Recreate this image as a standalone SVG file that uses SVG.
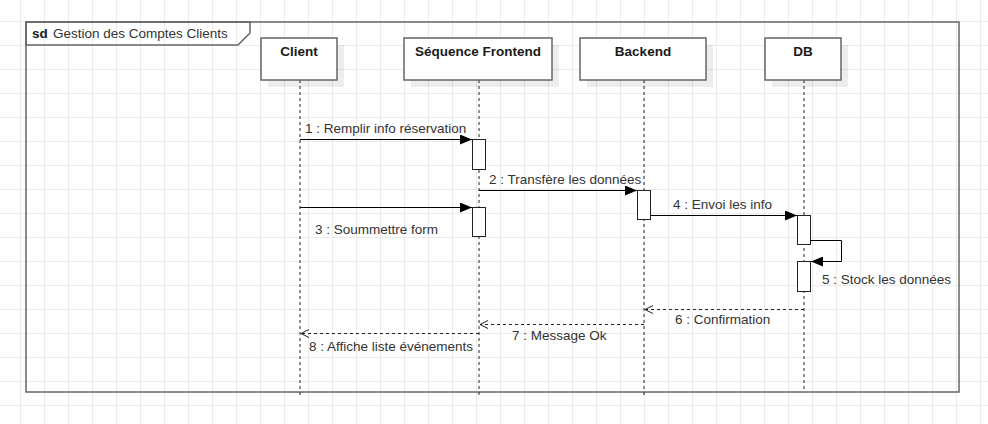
<svg xmlns="http://www.w3.org/2000/svg" width="988" height="424" viewBox="0 0 988 424">
<style>
.lbl{font-family:"Liberation Sans",Arial,sans-serif;font-size:13.5px;fill:#333}
.bold{font-family:"Liberation Sans",Arial,sans-serif;font-size:13.5px;font-weight:bold;fill:#1a1a1a}
.box{fill:#fff;stroke:#666;stroke-width:1.5}
.shadow{fill:#000;fill-opacity:0.07}
.life{stroke:#222;stroke-width:1;stroke-dasharray:3 3;fill:none}
.act{fill:#fff;stroke:#222;stroke-width:1}
.msg{stroke:#000;stroke-width:1;fill:none}
.ret{stroke:#222;stroke-width:1;stroke-dasharray:3 3;fill:none}
.frame{fill:none;stroke:#666;stroke-width:1.5}
</style>
<defs>
<pattern id="grid" patternUnits="userSpaceOnUse" x="20" y="21" width="24" height="24">
<path d="M0.5 0 V24 M0 0.5 H24" stroke="#ebebeb" stroke-width="1" fill="none"/>
</pattern>
<marker id="filled" viewBox="0 0 12 10" refX="12" refY="5" markerWidth="12" markerHeight="10" markerUnits="userSpaceOnUse" orient="auto">
<path d="M0 0 L12 5 L0 10 Z" fill="#000"/>
</marker>
<marker id="open" viewBox="0 0 10 10" refX="9" refY="5" markerWidth="10" markerHeight="10" markerUnits="userSpaceOnUse" orient="auto">
<path d="M1 1 L9 5 L1 9" fill="none" stroke="#222" stroke-width="1"/>
</marker>
</defs>
<rect width="988" height="424" fill="#fff"/>
<rect width="988" height="424" fill="url(#grid)"/>

<g id="frame">
<rect class="frame" x="26" y="22" width="933" height="370"/>
<path class="frame" d="M26 22 H250 V33 L238 45 H26 Z" fill="#fff"/>
<text class="bold" x="32" y="37.5">sd</text>
<text class="lbl" x="53" y="37.5">Gestion des Comptes Clients</text>
</g>

<g id="lifelines">
<line class="life" x1="300" y1="80" x2="300" y2="398"/>
<line class="life" x1="479" y1="80" x2="479" y2="398"/>
<line class="life" x1="644" y1="80" x2="644" y2="398"/>
<line class="life" x1="804" y1="80" x2="804" y2="392"/>
</g>

<g id="client">
<rect class="shadow" x="268" y="45" width="76" height="42"/>
<rect class="box" x="261" y="38" width="76" height="42"/>
<text class="bold" x="299" y="56" text-anchor="middle">Client</text>
</g>
<g id="frontend">
<rect class="shadow" x="411" y="45" width="148" height="42"/>
<rect class="box" x="404" y="38" width="148" height="42"/>
<text class="bold" x="478" y="56" text-anchor="middle">Séquence Frontend</text>
</g>
<g id="backend">
<rect class="shadow" x="587" y="45" width="126" height="42"/>
<rect class="box" x="580" y="38" width="126" height="42"/>
<text class="bold" x="643" y="56" text-anchor="middle">Backend</text>
</g>
<g id="db">
<rect class="shadow" x="772" y="45" width="76" height="42"/>
<rect class="box" x="765" y="38" width="76" height="42"/>
<text class="bold" x="803" y="56" text-anchor="middle">DB</text>
</g>

<g id="activations">
<rect class="act" x="472.5" y="139.5" width="13" height="30"/>
<rect class="act" x="472.5" y="207.5" width="13" height="29"/>
<rect class="act" x="637.5" y="190.5" width="13" height="29"/>
<rect class="act" x="797.5" y="215.5" width="13" height="29"/>
<rect class="act" x="797.5" y="261.5" width="13" height="30"/>
</g>

<g id="connectors">
<line class="msg" x1="300" y1="139.5" x2="472" y2="139.5" marker-end="url(#filled)"/>
<text class="lbl" x="305" y="133">1 : Remplir info réservation</text>
<line class="msg" x1="479" y1="190.5" x2="637" y2="190.5" marker-end="url(#filled)"/>
<text class="lbl" x="489" y="184">2 : Transfère les données</text>
<line class="msg" x1="300" y1="207.5" x2="472" y2="207.5" marker-end="url(#filled)"/>
<text class="lbl" x="315" y="234">3 : Soummettre form</text>
<line class="msg" x1="650" y1="215.5" x2="797" y2="215.5" marker-end="url(#filled)"/>
<text class="lbl" x="673" y="209">4 : Envoi les info</text>
<path class="msg" d="M810 240.5 H841.5 V261.5 H811" marker-end="url(#filled)"/>
<text class="lbl" x="822" y="284">5 : Stock les données</text>
<line class="ret" x1="804" y1="309.5" x2="645" y2="309.5" marker-end="url(#open)"/>
<text class="lbl" x="675" y="323.5">6 : Confirmation</text>
<line class="ret" x1="644" y1="324.5" x2="480" y2="324.5" marker-end="url(#open)"/>
<text class="lbl" x="512" y="340">7 : Message Ok</text>
<line class="ret" x1="479" y1="333.5" x2="301" y2="333.5" marker-end="url(#open)"/>
<text class="lbl" x="309" y="350.5">8 : Affiche liste événements</text>
</g>
</svg>
